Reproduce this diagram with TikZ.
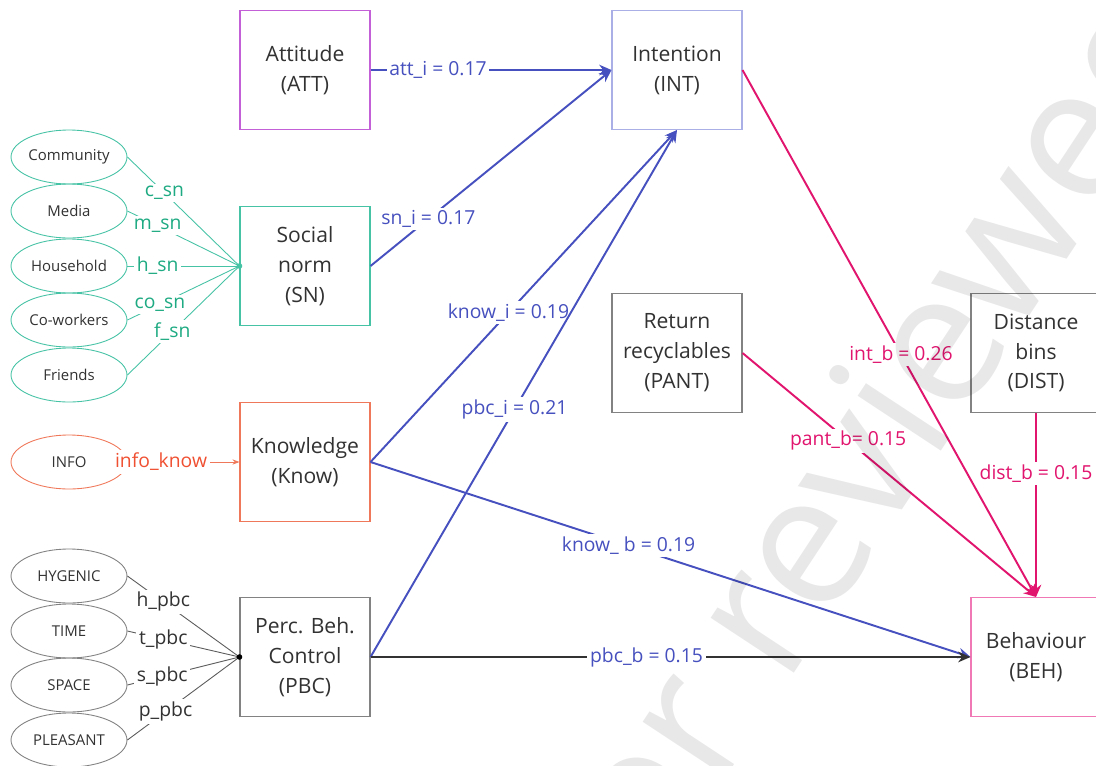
\documentclass[tikz,border=0pt]{standalone}
\usepackage{fontspec}
\setmainfont{Open Sans}
\usetikzlibrary{shapes.geometric, arrows.meta}
\definecolor{attcol}{RGB}{195,95,215}
\definecolor{intcol}{RGB}{170,175,230}
\definecolor{sncol}{RGB}{70,195,165}
\definecolor{snlab}{RGB}{30,170,130}
\definecolor{knowcol}{RGB}{240,120,90}
\definecolor{infolab}{RGB}{240,80,50}
\definecolor{behcol}{RGB}{240,120,180}
\definecolor{greycol}{RGB}{130,130,130}
\definecolor{bluecol}{RGB}{70,80,190}
\definecolor{pinkcol}{RGB}{225,20,110}
\definecolor{darkcol}{RGB}{50,50,50}
\begin{document}
\begin{tikzpicture}[x=0.02cm, y=-0.02cm, >={Stealth[length=7pt, width=6pt]},
  construct/.style={draw, align=center, minimum width=2.6cm, minimum height=2.38cm,
    font=\fontsize{12}{17}\selectfont, text=darkcol, line width=0.6pt},
  indicator/.style={draw, ellipse, inner sep=0pt, minimum width=2.32cm, minimum height=1.08cm,
    font=\fontsize{8.5}{10}\selectfont, text=darkcol, line width=0.5pt},
  coef/.style={fill=white, inner sep=1.5pt, font=\fontsize{11}{13}\selectfont},
  effect/.style={->, line width=1.1pt},
  loading/.style={line width=0.5pt}]
\useasboundingbox (0,0) rectangle (1096,765);
\fill[white] (0,0) rectangle (1096,765);
% constructs
\node[construct, draw=attcol] (att) at (305,70) {Attitude\\(ATT)};
\node[construct, draw=intcol] (int) at (677,70) {Intention\\(INT)};
\node[construct, draw=sncol] (sn) at (305,266) {Social\\norm\\(SN)};
\node[construct, draw=knowcol] (know) at (305,462) {Knowledge\\(Know)};
\node[construct, draw=greycol] (pbc) at (305,657) {Perc. Beh.\\Control\\(PBC)};
\node[construct, draw=greycol] (pant) at (677,353) {Return\\recyclables\\(PANT)};
\node[construct, draw=greycol] (dist) at (1036,353) {Distance\\bins\\(DIST)};
\node[construct, draw=behcol] (beh) at (1036,657) {Behaviour\\(BEH)};
% indicators
\node[indicator, draw=sncol] (comm) at (69,157) {Community};
\node[indicator, draw=sncol] (media) at (69,211) {Media};
\node[indicator, draw=sncol] (house) at (69,266) {Household};
\node[indicator, draw=sncol] (cowork) at (69,320) {Co-workers};
\node[indicator, draw=sncol] (friends) at (69,375) {Friends};
\node[indicator, draw=knowcol] (info) at (69,462) {INFO};
\node[indicator, draw=greycol] (hyg) at (69,576) {HYGENIC};
\node[indicator, draw=greycol] (time) at (69,631) {TIME};
\node[indicator, draw=greycol] (space) at (69,685) {SPACE};
\node[indicator, draw=greycol] (pleas) at (69,740) {PLEASANT};
% loadings on SN
\draw[loading, sncol] (comm.east) -- node[coef, text=snlab, pos=.33] {c\_sn} (sn.west);
\draw[loading, sncol] (media.east) -- node[coef, text=snlab, pos=.27] {m\_sn} (sn.west);
\draw[loading, sncol] (house.east) -- node[coef, text=snlab, pos=.27] {h\_sn} (sn.west);
\draw[loading, sncol] (cowork.east) -- node[coef, text=snlab, pos=.29] {co\_sn} (sn.west);
\draw[loading, sncol] (friends.east) -- node[coef, text=snlab, pos=.4] {f\_sn} (sn.west);
\fill[sncol] (sn.west) circle (1.6pt);
% info
\draw[loading, -{Stealth[length=4pt, width=3pt]}, knowcol] (info.east) -- node[coef, text=infolab, pos=.3] {info\_know} (know.west);
% loadings on PBC
\draw[loading, greycol!70!black] (hyg.east) -- node[coef, text=darkcol, pos=.32] {h\_pbc} (pbc.west);
\draw[loading, greycol!70!black] (time.east) -- node[coef, text=darkcol, pos=.32] {t\_pbc} (pbc.west);
\draw[loading, greycol!70!black] (space.east) -- node[coef, text=darkcol, pos=.31] {s\_pbc} (pbc.west);
\draw[loading, greycol!70!black] (pleas.east) -- node[coef, text=darkcol, pos=.34] {p\_pbc} (pbc.west);
\fill[black] (pbc.west) circle (1.6pt);
% paths to intention
\draw[effect, bluecol] (att.east) -- node[coef, text=bluecol, pos=.28] {att\_i = 0.17} (int.west);
\draw[effect, bluecol] (sn.east) -- node[coef, text=bluecol, pos=.24] {sn\_i = 0.17} (int.west);
\draw[effect, bluecol] (know.east) -- node[coef, text=bluecol, pos=.45] {know\_i = 0.19} (int.south);
\draw[effect, bluecol] (pbc.east) -- node[coef, text=bluecol, pos=.47] {pbc\_i = 0.21} (int.south);
% paths to behaviour
\draw[effect, bluecol] (know.east) -- node[coef, text=bluecol, pos=.43] {know\_ b = 0.19} (beh.west);
\draw[effect, darkcol] (pbc.east) -- node[coef, text=bluecol, pos=.46] {pbc\_b = 0.15} (beh.west);
\draw[effect, pinkcol] (int.east) -- node[coef, text=pinkcol, pos=.54] {int\_b = 0.26} (beh.north);
\draw[effect, pinkcol] (pant.east) -- node[coef, text=pinkcol, pos=.36] {pant\_b= 0.15} (beh.north);
\draw[effect, pinkcol] (dist.south) -- node[coef, text=pinkcol, pos=.33] {dist\_b = 0.15} (beh.north);
% watermark
\node[rotate=56.6, anchor=base east, inner sep=0pt, text=black, text opacity=0.09,
  font=\fontsize{106}{110}\selectfont] (mark) at (1214,37) {Preprint not peer reviewed};
\end{tikzpicture}
\end{document}
